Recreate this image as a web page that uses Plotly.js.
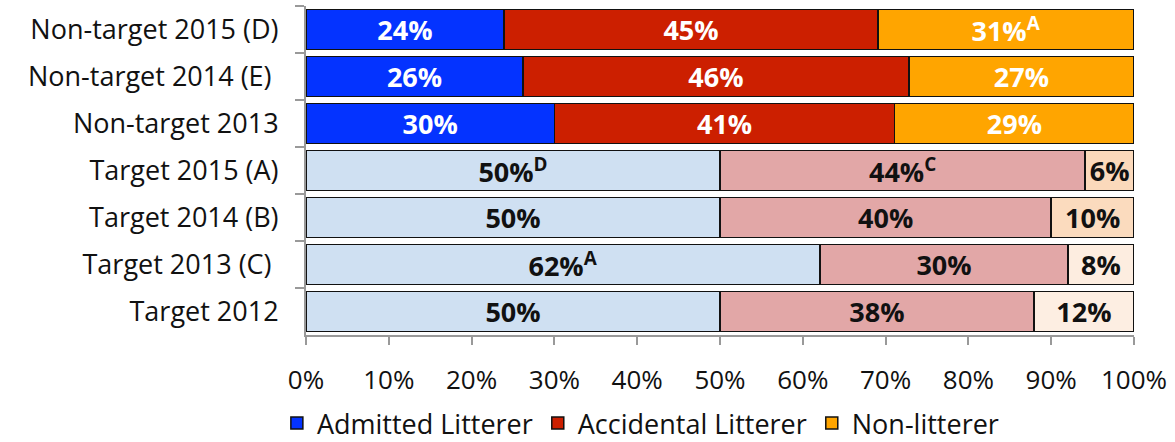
<!DOCTYPE html>
<html>
<head>
<meta charset="utf-8">
<script src="https://cdn.plot.ly/plotly-3.0.1.min.js"></script>
<style>
  html, body { margin: 0; padding: 0; background: #fff; }
  #chart { width: 1175px; height: 442px; }
</style>
</head>
<body>
<div id="chart"></div>
<script>
// groups, top to bottom
const groups = ['Non-target 2015 (D)', 'Non-target 2014 (E)\u00a0', 'Non-target 2013',
                'Target 2015 (A)', 'Target 2014 (B)', 'Target 2013 (C)\u00a0', 'Target 2012'];

// bar lengths (unrounded), and the printed labels
const admitted   = [23.9, 26.2, 30.0, 50.0, 50.0, 62.1, 50.0];
const accidental = [45.2, 46.6, 41.1, 44.1, 40.0, 29.9, 37.9];
const nonLitter  = [30.9, 27.2, 28.9, 5.9, 10.0, 8.0, 12.1];

const admittedLbl   = [24, 26, 30, 50, 50, 62, 50];
const accidentalLbl = [45, 46, 41, 44, 40, 30, 38];
const nonLitterLbl  = [31, 27, 29, 6, 10, 8, 12];

// significance letters shown as superscripts
const admittedSig   = ['', '', '', 'D', '', 'A', ''];
const accidentalSig = ['', '', '', 'C', '', '', ''];
const nonLitterSig  = ['A', '', '', '', '', '', ''];

const isTarget = groups.map(g => g.startsWith('Target'));

const admittedColors   = ['#0433ff', '#0433ff', '#0433ff', '#cfe0f2', '#cfe0f2', '#cfe0f2', '#cfe0f2'];
const accidentalColors = ['#cc1f00', '#cc1f00', '#cc1f00', '#e2a7a7', '#e2a7a7', '#e2a7a7', '#e2a7a7'];
const nonLitterColors  = ['#ffa500', '#ffa500', '#ffa500', '#fbd9bb', '#fbdbbe', '#fdede0', '#fdeee2'];

const labelFor = (lbl, sig) => lbl.map((v, i) =>
  '<b>' + v + '%' + (sig[i] ? '<sup>' + sig[i] + '</sup>' : '') + '</b>');
const textColors = isTarget.map(t => t ? '#111' : '#fff');

const FONT = '"Open Sans", Lato, sans-serif';

function series(name, vals, lbl, sig, colors) {
  return {
    type: 'bar', orientation: 'h', name: name,
    y: groups, x: vals,
    text: labelFor(lbl, sig),
    textposition: 'inside', insidetextanchor: 'middle', textangle: 0,
    constraintext: 'none',
    textfont: { family: FONT, size: 27, color: textColors },
    marker: { color: colors, line: { color: '#111', width: 1.5 } },
    hoverinfo: 'skip'
  };
}

const data = [
  series('Admitted Litterer', admitted, admittedLbl, admittedSig, admittedColors),
  series('Accidental Litterer', accidental, accidentalLbl, accidentalSig, accidentalColors),
  series('Non-litterer', nonLitter, nonLitterLbl, nonLitterSig, nonLitterColors)
];

const layout = {
  width: 1175, height: 442,
  margin: { l: 306, r: 41, t: 6, b: 107 },
  barmode: 'stack', bargap: 0.15,
  paper_bgcolor: '#fff', plot_bgcolor: '#fff',
  font: { family: FONT, size: 26, color: '#111' },
  showlegend: true,
  legend: {
    orientation: 'h', xref: 'container', yref: 'container',
    x: 0.545, xanchor: 'center', y: 0.042, yanchor: 'middle',
    font: { size: 27 }, itemwidth: 30, traceorder: 'normal'
  },
  xaxis: {
    range: [0, 100], dtick: 10, ticksuffix: '%',
    showgrid: false, zeroline: false,
    showline: true, linecolor: '#999', linewidth: 2,
    ticks: 'outside', ticklen: 8, tickcolor: '#999', tickwidth: 2,
    ticklabelstandoff: 13,
    tickfont: { size: 26 }, fixedrange: true
  },
  yaxis: {
    autorange: 'reversed', type: 'category',
    showline: true, linecolor: '#999', linewidth: 2,
    ticks: 'outside', tickson: 'boundaries', ticklen: 9, tickcolor: '#999', tickwidth: 2,
    ticklabelstandoff: 20,
    showgrid: false, zeroline: false,
    tickfont: { size: 27 }, fixedrange: true
  }
};

Plotly.newPlot('chart', data, layout, { displayModeBar: false, staticPlot: true });
</script>
</body>
</html>
